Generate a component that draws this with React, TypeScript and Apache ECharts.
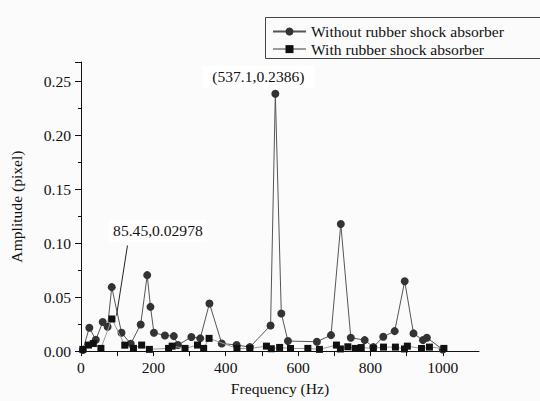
import React, { useEffect, useRef } from "react";
import * as echarts from "echarts";

const seriesNames = ["Without rubber shock absorber", "With rubber shock absorber"];

const withoutFreq = [5, 23, 41, 60, 73.5, 85, 112, 137.5, 165, 183, 192, 201.6, 232, 256.5, 268, 305, 329.5, 355, 389, 430, 466.7, 524, 537.1, 553.6, 572, 652, 691, 718, 745.7, 784, 808, 835.4, 867, 894.7, 919, 945, 956, 1000];
const withoutAmp = [0.001, 0.0217, 0.0105, 0.0269, 0.0226, 0.0593, 0.017, 0.0068, 0.0247, 0.0704, 0.041, 0.017, 0.0145, 0.0139, 0.0056, 0.013, 0.0118, 0.0442, 0.0071, 0.0056, 0.0037, 0.0238, 0.2386, 0.0349, 0.0093, 0.0087, 0.0148, 0.1178, 0.0124, 0.0102, 0.0037, 0.0133, 0.0185, 0.0648, 0.0164, 0.0102, 0.0124, 0.0015];

const withFreq = [5, 20.6, 34, 55, 85.45, 121, 145, 167.6, 189, 242, 252, 287.5, 322, 339, 354, 431, 466.7, 512.5, 526, 549, 579, 627, 659, 706, 717, 737.5, 758, 774.5, 808, 836, 869, 894, 902, 941, 963, 1003];
const withAmp = [0.0016, 0.0056, 0.007, 0.0025, 0.02978, 0.0055, 0.0025, 0.0056, 0.0016, 0.0025, 0.0046, 0.0025, 0.0056, 0.0025, 0.0118, 0.0025, 0.0025, 0.0046, 0.0022, 0.0034, 0.0024, 0.0025, 0.0016, 0.0056, 0.002, 0.004, 0.0025, 0.0033, 0.0025, 0.0037, 0.0037, 0.002, 0.0046, 0.0024, 0.0037, 0.0025];

const peakLabel = "(537.1,0.2386)";
const peakPoint = [537.1, 0.2386];
const squareLabel = "85.45,0.02978";
const squarePoint = [85.45, 0.02978];
const leaderFrom = [128.4, 0.0979];
const leaderTo = [98.2, 0.033];

const FONT = "'Liberation Serif', 'Times New Roman', serif";
const FS = 15.6;

export default function App() {
  const ref = useRef<HTMLDivElement>(null);
  useEffect(() => {
    if (!ref.current) return;
    const chart = echarts.init(ref.current, null, { renderer: "svg" });
    const d1 = withoutFreq.map((f, i) => [f, withoutAmp[i]]);
    const d2 = withFreq.map((f, i) => [f, withAmp[i]]);
    chart.setOption({
      animation: false,
      backgroundColor: "#fbfbfb",
      textStyle: { fontFamily: FONT, color: "#111" },
      grid: { left: 77, top: 62, width: 402, height: 290, containLabel: false },
      legend: {
        orient: "vertical",
        left: 272,
        top: 23.5,
        padding: 0,
        itemWidth: 33,
        itemHeight: 10,
        itemGap: 1.6,
        textStyle: { fontFamily: FONT, fontSize: FS, color: "#111", lineHeight: 16 },
        data: seriesNames,
      },
      graphic: [
        {
          type: "rect",
          shape: { x: 265.5, y: 17.5, width: 290, height: 41 },
          style: { fill: "none", stroke: "#444", lineWidth: 1 },
          z: 100,
        },
      ],
      xAxis: {
        type: "value",
        min: 0,
        max: 1100,
        interval: 100,
        name: "Frequency (Hz)",
        nameLocation: "middle",
        nameGap: 27,
        nameTextStyle: { fontFamily: FONT, fontSize: FS, color: "#111" },
        axisLine: { show: true, onZero: false, lineStyle: { color: "#111", width: 1 } },
        axisTick: { show: true, inside: false, length: 5, lineStyle: { color: "#111" } },
        axisLabel: {
          margin: 8,
          fontFamily: FONT,
          fontSize: FS,
          color: "#111",
          showMaxLabel: false,
          formatter: (v: number) => (Math.round(v) % 200 === 0 ? String(Math.round(v)) : ""),
        },
        splitLine: { show: false },
      },
      yAxis: {
        type: "value",
        min: 0,
        max: 0.268,
        interval: 0.05,
        name: "Amplitude (pixel)",
        nameLocation: "middle",
        nameGap: 57,
        nameTextStyle: { fontFamily: FONT, fontSize: FS, color: "#111" },
        axisLine: { show: true, onZero: false, lineStyle: { color: "#111", width: 1 } },
        axisTick: { show: true, inside: false, length: 6, lineStyle: { color: "#111" } },
        minorTick: { show: true, splitNumber: 2, length: 3, lineStyle: { color: "#111" } },
        axisLabel: {
          margin: 10,
          fontFamily: FONT,
          fontSize: FS,
          color: "#111",
          showMaxLabel: false,
          formatter: (v: number) => {
            const k = v / 0.05;
            return Math.abs(k - Math.round(k)) < 1e-6 ? v.toFixed(2) : "";
          },
        },
        splitLine: { show: false },
      },
      series: [
        {
          name: seriesNames[0],
          type: "line",
          data: d1,
          symbol: "circle",
          symbolSize: 8,
          itemStyle: { color: "#333" },
          lineStyle: { color: "#555", width: 1 },
          markPoint: {
            symbol: "rect",
            symbolSize: 0,
            data: [
              {
                coord: peakPoint,
                label: {
                  show: true,
                  position: "inside",
                  offset: [-17, -17],
                  formatter: peakLabel,
                  fontFamily: FONT,
                  fontSize: FS,
                  color: "#111",
                  backgroundColor: "#ffffff",
                  padding: [3, 10, 3, 10],
                },
              },
            ],
          },
          z: 2,
        },
        {
          name: seriesNames[1],
          type: "line",
          data: d2,
          symbol: "rect",
          symbolSize: 7,
          itemStyle: { color: "#111" },
          lineStyle: { color: "#9a9a9a", width: 1 },
          markLine: {
            silent: true,
            symbol: "none",
            label: { show: false },
            lineStyle: { color: "#222", width: 1, type: "solid" },
            data: [[{ coord: leaderFrom }, { coord: leaderTo }]],
          },
          markPoint: {
            symbol: "rect",
            symbolSize: 0,
            data: [
              {
                coord: squarePoint,
                label: {
                  show: true,
                  position: "inside",
                  offset: [46, -88],
                  formatter: squareLabel,
                  fontFamily: FONT,
                  fontSize: FS,
                  color: "#111",
                  backgroundColor: "#ffffff",
                  padding: [3, 4, 3, 4],
                },
              },
            ],
          },
          z: 3,
        },
      ],
    });
    return () => chart.dispose();
  }, []);
  return (
    <div
      ref={ref}
      style={{ position: "fixed", left: 0, top: 0, width: 540, height: 401 }}
    />
  );
}
